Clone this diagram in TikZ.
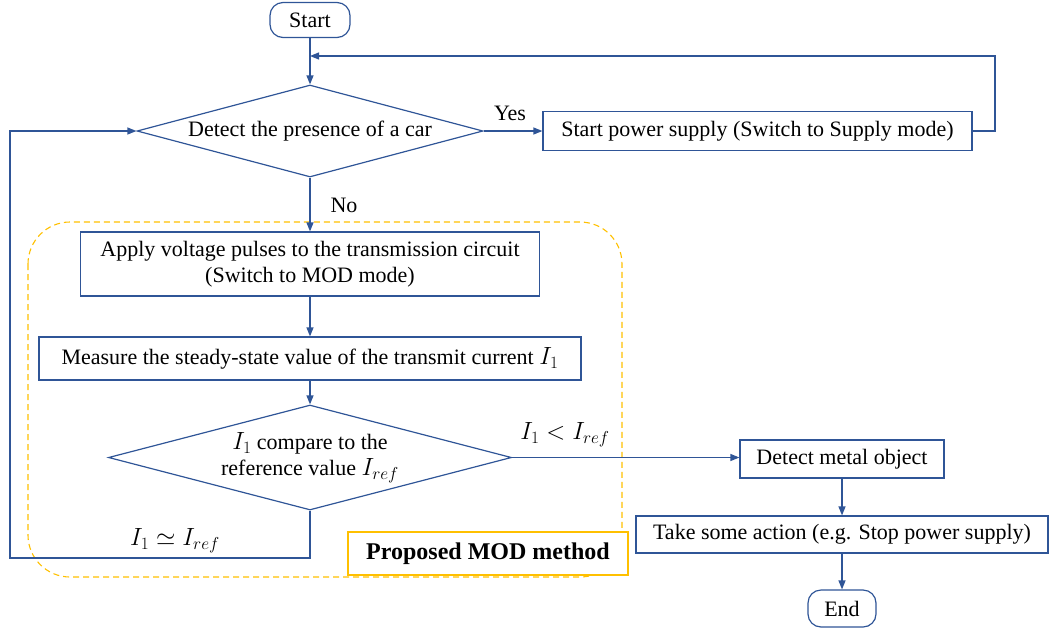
\documentclass[tikz,border=0pt]{standalone}
\usepackage{fontspec}
\setmainfont{Liberation Serif}
\usetikzlibrary{arrows.meta,shapes.geometric}
\definecolor{flowblue}{HTML}{2F5597}
\definecolor{modorange}{HTML}{FFC000}
\newcommand{\bigmath}[1]{{\fontsize{25}{29}\selectfont$#1$}}
\tikzset{
  box/.style={draw=flowblue, line width=1.2pt, rectangle, inner sep=0pt, align=center, font=\fontsize{22}{26}\selectfont},
  terminal/.style={box, rounded corners=13pt},
  decision/.style={draw=flowblue, line width=1.2pt, diamond, inner sep=0pt, align=center, font=\fontsize{22}{26}\selectfont},
  arr/.style={draw=flowblue, line width=1.2pt, -{Triangle[length=9pt,width=7pt]}},
  lbl/.style={inner sep=0pt, font=\fontsize{22}{26}\selectfont},
  mathlbl/.style={inner sep=0pt, font=\fontsize{25}{29}\selectfont},
}
\begin{document}
\begin{tikzpicture}[x=1pt, y=-1pt]
  \useasboundingbox (0,0) rectangle (1049,633);

  % region of the proposed method
  \draw[modorange, line width=1.1pt, dash pattern=on 6pt off 4pt, rounded corners=42pt] (28,222) rectangle (622,577);

  % nodes
  \node[terminal, minimum width=80pt, minimum height=35pt] (start) at (310,20) {Start};
  \node[decision, minimum width=346pt, minimum height=92pt, aspect=3.76] (car) at (310,131) {Detect the presence of a car};
  \node[box, minimum width=429pt, minimum height=39pt] (supply) at (757.5,131) {Start power supply (Switch to Supply mode)};
  \node[box, minimum width=459pt, minimum height=64pt] (pulse) at (310,264) {Apply voltage pulses to the transmission circuit\\(Switch to MOD mode)};
  \node[box, minimum width=542pt, minimum height=43pt] (measure) at (310,358.5) {Measure the steady-state value of the transmit current \bigmath{I_1}};
  \node[decision, minimum width=403pt, minimum height=105pt, aspect=3.84] (cmp) at (310,457.5) {\bigmath{I_1} compare to the\\reference value \bigmath{I_{ref}}};
  \node[box, minimum width=204pt, minimum height=38pt] (metal) at (842,459) {Detect metal object};
  \node[box, minimum width=412pt, minimum height=37pt] (action) at (842,534.5) {Take some action (e.g. Stop power supply)};
  \node[terminal, minimum width=68pt, minimum height=37pt] (end) at (842,608.5) {End};
  \node[draw=modorange, line width=1.1pt, fill=white, minimum width=280pt, minimum height=43pt, inner sep=0pt,
        font=\fontsize{24}{28}\selectfont\bfseries] (mod) at (488,553.5) {Proposed MOD method};

  % branch labels
  \node[lbl] (yes) at (510,113) {Yes};
  \node[lbl] (no) at (344,205) {No};
  \node[mathlbl] (less) at (565,435) {$I_1 < I_{ref}$};
  \node[mathlbl] (equal) at (175,541) {$I_1 \simeq I_{ref}$};

  % corner points of the loops
  \coordinate (join) at (310,56);
  \coordinate (sr) at (995,131);
  \coordinate (st) at (995,56);
  \coordinate (cb) at (310,558);
  \coordinate (lb) at (10,558);
  \coordinate (lt) at (10,131);

  % connectors
  \draw[arr] (start) -- (car.north);
  \draw[arr] (car.east) -- (supply.west);
  \draw[arr] (supply.east) -- (sr) -- (st) -- (join);
  \draw[arr] (car.south) -- (pulse.north);
  \draw[arr] (pulse) -- (measure);
  \draw[arr] (measure.south) -- (cmp.north);
  \draw[arr] (cmp.east) -- (cmp.east -| metal.west);
  \draw[arr] (metal) -- (action);
  \draw[arr] (action) -- (end);
  \draw[arr] (cmp.south) -- (cb) -- (lb) -- (lt) -- (car.west);
\end{tikzpicture}
\end{document}
